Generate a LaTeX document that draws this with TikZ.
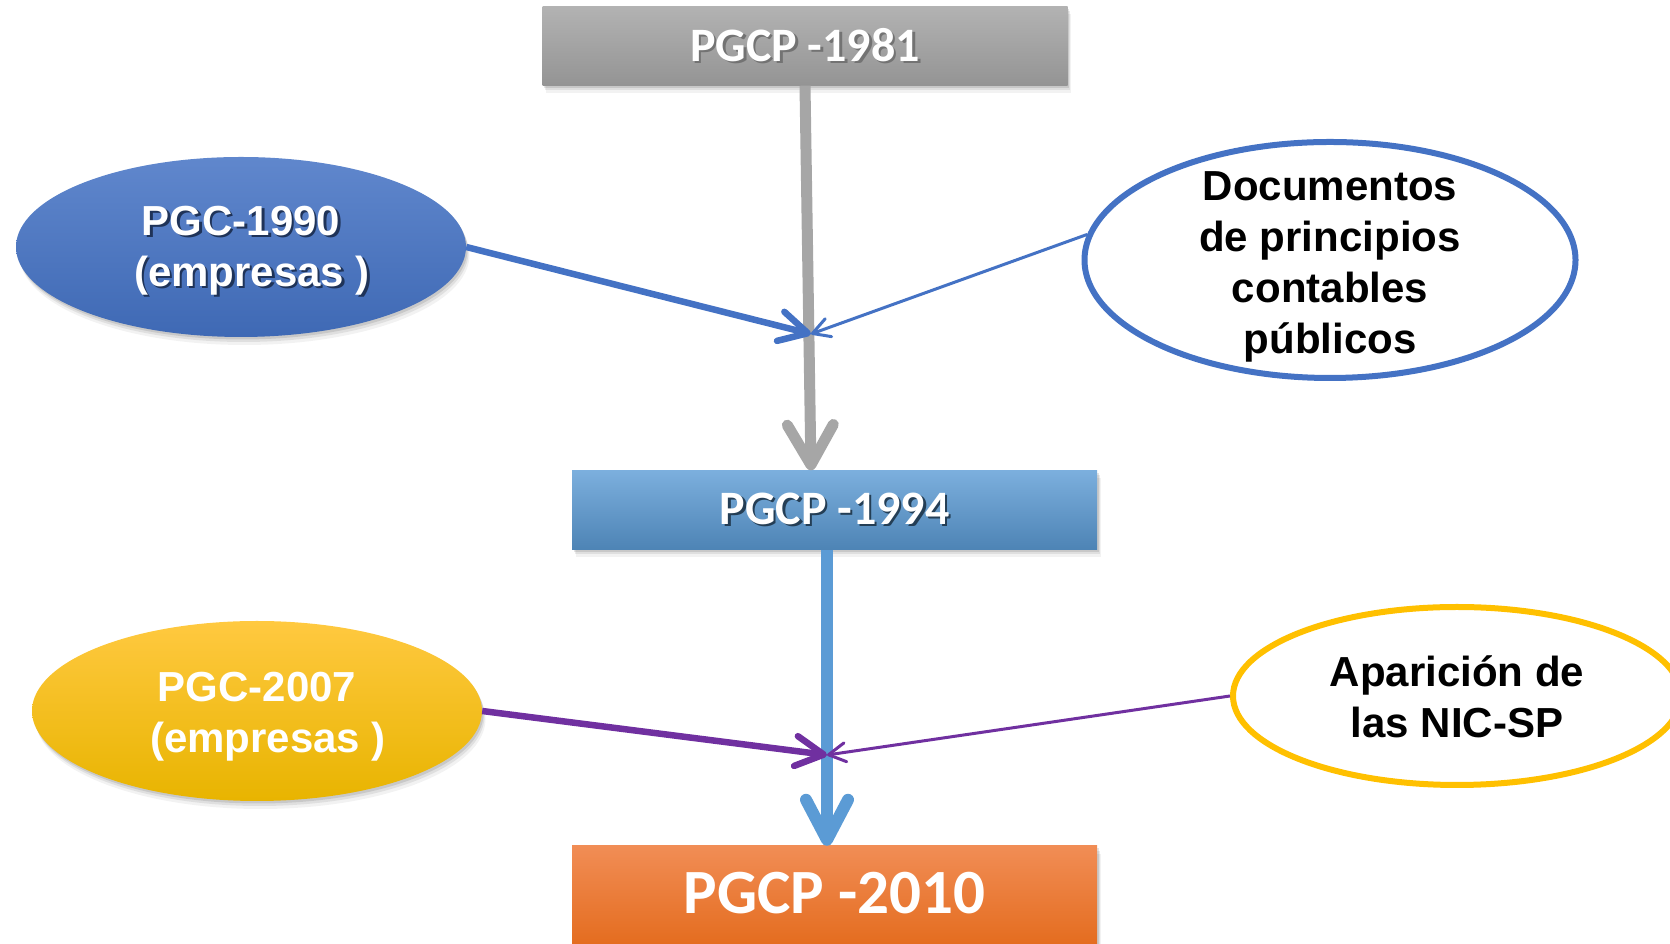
\documentclass[tikz,border=0pt]{standalone}
\usepackage{fontspec}
\setmainfont{Liberation Sans}
\newfontfamily\calibri{Carlito}
\usetikzlibrary{shapes.geometric,arrows.meta,shadows}

\definecolor{accgray}{HTML}{A6A6A6}
\definecolor{accblue}{HTML}{4472C4}
\definecolor{skyblue}{HTML}{5B9BD5}
\definecolor{accpurple}{HTML}{7030A0}
\definecolor{accgold}{HTML}{FFC000}

% text with a small dark copy behind it
\newcommand\shtxt[2]{\makebox[0pt][l]{\hspace*{2.5pt}\raisebox{-2.5pt}{\color{#1}#2}}#2}

\tikzset{
  softshadow/.style={
    general shadow={fill=black,opacity=.10,shadow xshift=1.5pt,shadow yshift=-2.5pt},
    general shadow={fill=black,opacity=.08,shadow xshift=2.5pt,shadow yshift=-5pt},
    general shadow={fill=black,opacity=.05,shadow xshift=3.5pt,shadow yshift=-8pt}},
  stagebox/.style={rectangle, minimum width=525pt, minimum height=79pt, inner sep=0pt,
    text=white, font=\calibri\bfseries\fontsize{48}{58}\selectfont, softshadow},
  filledell/.style={ellipse, minimum width=450pt, minimum height=180pt, inner sep=0pt, softshadow},
  ringell/.style={ellipse, draw, line width=6pt, fill=white, inner sep=0pt},
  elltext/.style={font=\bfseries\fontsize{42}{51}\selectfont, align=center, inner sep=0pt},
  graylink/.style={draw=accgray, line width=11pt,
    -{Straight Barb[length=40pt,width=46pt,round]}},
  vlink/.style={draw=skyblue, line width=12pt,
    -{Straight Barb[length=40pt,width=42pt,round]}},
  thicklink/.style={line width=6.5pt, -{Straight Barb[length=28pt,width=30pt,round]}},
  thinlink/.style={line width=3pt, -{Straight Barb[length=17pt,width=19pt,round]}},
}

\begin{document}
\begin{tikzpicture}[x=1pt,y=1pt]
\useasboundingbox (0,0) rectangle (1670,944);

% stages of the public accounting plan
\node[stagebox, top color=black!30, bottom color=black!42] (b81) at (805,898)
  {\shtxt{black!55}{PGCP -1981}};
\node[stagebox, top color=skyblue!80!white, bottom color=skyblue!85!black] (b94) at (834.5,434)
  {\shtxt{skyblue!40!black}{PGCP -1994}};
\node[stagebox, minimum height=130pt,
  top color={rgb,255:red,241;green,141;blue,85}, bottom color={rgb,255:red,224;green,98;blue,14},
  label={[text=white, font=\calibri\bfseries\fontsize{63}{75}\selectfont, yshift=18pt]center:PGCP -2010}]
  (b10) at (834.5,33) {};

% influences
\node[filledell, top color=accblue!85!white, bottom color=accblue!92!black,
  label={[elltext, text=white, yshift=-5pt]center:{\shtxt{accblue!45!black}{\begin{tabular}{@{}c@{}}PGC-1990\\\hspace*{22pt}(empresas )\end{tabular}}}}]
  (pgc90) at (241,697) {};
\node[ringell, draw=accblue, minimum width=491pt, minimum height=236pt,
  label={[elltext, yshift=-7pt]center:{Documentos\\de principios\\contables\\públicos}}]
  (doc) at (1330,684) {};
\node[filledell, top color={rgb,255:red,255;green,201;blue,64}, bottom color={rgb,255:red,232;green,180;blue,0},
  label={[elltext, text=white, yshift=-6pt]center:{\begin{tabular}{@{}c@{}}PGC-2007\\\hspace*{22pt}(empresas )\end{tabular}}}]
  (pgc07) at (257,233) {};
\node[ringell, draw=accgold, minimum width=448pt, minimum height=178pt,
  label={[elltext, yshift=-1pt]center:{Aparición de\\las NIC-SP}}]
  (nic) at (1457,248) {};

% meeting points on the main line
\coordinate (m1) at (811,610);
\coordinate (m2) at (827,189);

\draw[graylink] (b81.south) -- (b94.north -| m1);
\draw[vlink] (b94.south -| m2) -- (b10.north -| m2);

\draw[thicklink, draw=accblue] (pgc90.east) -- (m1);
\draw[thinlink, draw=accblue] (doc.174) -- (m1);
\draw[thicklink, draw=accpurple] (pgc07.east) -- (m2);
\draw[thinlink, draw=accpurple] (nic.west) -- (m2);
\end{tikzpicture}
\end{document}
